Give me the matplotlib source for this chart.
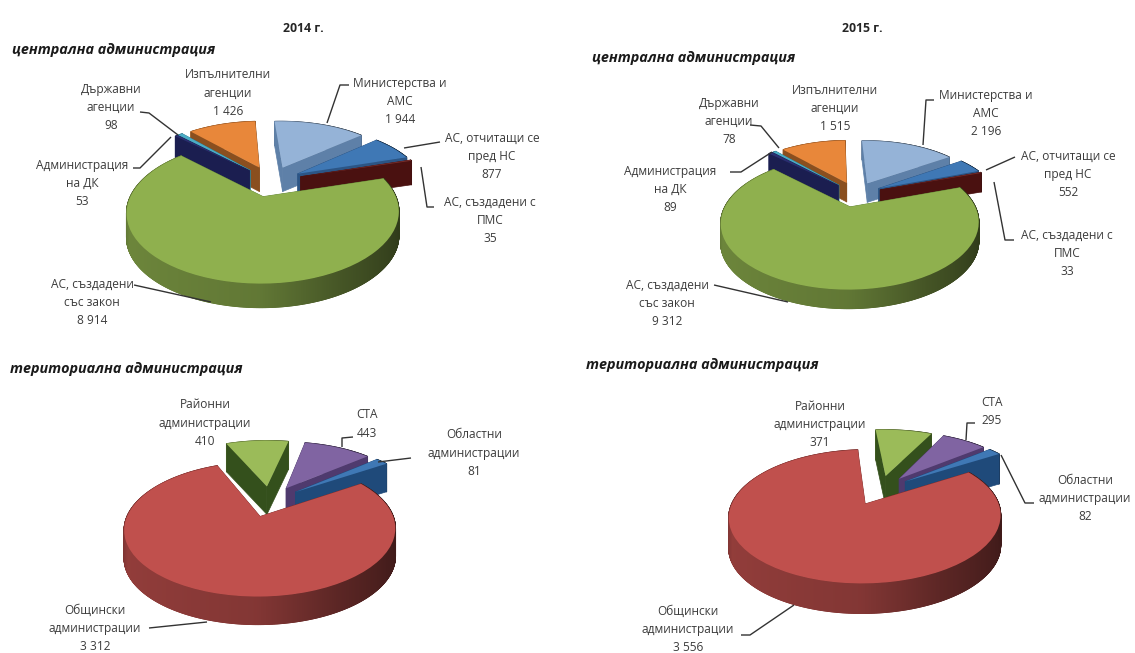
import numpy as np
import matplotlib
matplotlib.use("Agg")
import matplotlib.pyplot as plt
from matplotlib.collections import PolyCollection
from matplotlib.transforms import Transform
from matplotlib.colors import to_rgb

# ---------- data ----------
central_labels = ["Министерства и\nАМС", "АС, отчитащи се\nпред НС", "АС, създадени с\nПМС",
                  "АС, създадени\nсъс закон", "Администрация\nна ДК", "Държавни\nагенции",
                  "Изпълнителни\nагенции"]
central_2014 = [1944, 877, 35, 8914, 53, 98, 1426]
central_2015 = [2196, 552, 33, 9312, 89, 78, 1515]
terr_labels = ["Районни\nадминистрации", "СТА", "Областни\nадминистрации", "Общински\nадминистрации"]
terr_2014 = [410, 443, 81, 3312]
terr_2015 = [371, 295, 82, 3556]
central_2014_text = ["1 944", "877", "35", "8 914", "53", "98", "1 426"]
central_2015_text = ["2 196", "552", "33", "9 312", "89", "78", "1 515"]
terr_2014_text = ["410", "443", "81", "3 312"]
terr_2015_text = ["371", "295", "82", "3 556"]

# ---------- style ----------
central_top = ["#95B3D7", "#3F78B5", "#7A2E2C", "#8FB04E", "#2A2F72", "#4BACC6", "#E8873A"]
central_wall = ["#5E80A8", "#2C5585", "#4A1110", "#5F8336", "#1B1E50", "#2F7F93", "#8A4F1F"]
terr_top = ["#9BBB59", "#8064A2", "#3F78B5", "#C0504D"]
terr_wall = ["#34501C", "#4F3A6E", "#1F4A7A", "#7E2B28"]
TXT = "#3c3c3c"
W, H = 1135, 653
plt.rcParams["font.family"] = ["Open Sans", "DejaVu Sans"]

fig = plt.figure(figsize=(W / 100, H / 100), dpi=100, facecolor="white")
pix = fig.add_axes([0, 0, 1, 1], zorder=0)
pix.set_xlim(0, W); pix.set_ylim(H, 0); pix.axis("off")


class Persp(Transform):
    input_dims = output_dims = 2

    def __init__(self, a, k):
        super().__init__()
        self.a, self.k = a, k

    def transform_non_affine(self, xy):
        xy = np.asarray(xy, float)
        w = 1 + self.k * xy[:, 1]
        return np.column_stack([xy[:, 0] / w, self.a * xy[:, 1] / w])


def pie3d(values, tops, walls, cx, cy, R, a, k, h, start, explode, z):
    ax = fig.add_axes([0, 0, 1, 1], zorder=z)
    ax.patch.set_alpha(0)
    tr = Persp(a / R, k)
    wedges, _ = ax.pie(values, startangle=start, counterclock=False, explode=[explode] * len(values),
                       colors=tops, radius=1, center=(0, 0))
    ax.set_aspect("auto")
    ax.set_xlim(-cx / R, (W - cx) / R)
    ax.set_ylim((cy - H) / R, cy / R)
    ax.axis("off")

    def proj(X, Y):
        w = 1 + k * Y
        return cx + R * X / w, cy - a * Y / w

    mids = [np.radians((wd.theta1 + wd.theta2) / 2) for wd in wedges]
    order = np.argsort([-np.sin(m) for m in mids])
    for zi, i in enumerate(order):
        wd = wedges[i]
        c0 = np.array(wd.center)
        base = np.array(to_rgb(tops[i]))
        th = np.radians(np.linspace(wd.theta1, wd.theta2, max(4, int(wd.theta2 - wd.theta1) * 4)))
        X = c0[0] + np.cos(th); Y = c0[1] + np.sin(th)
        px, py = proj(X, Y)
        polys, cols = [], []
        for j in range(len(th) - 1):
            polys.append([(px[j], py[j]), (px[j + 1], py[j + 1]),
                          (px[j + 1], py[j + 1] + h), (px[j], py[j] + h)])
            nx = np.cos((th[j] + th[j + 1]) / 2)
            s = np.interp(nx, [-1, -0.9, 0, 0.5, 1], [0.62, 0.76, 0.68, 0.48, 0.33])
            cols.append(base * s)
        pc = PolyCollection(polys, facecolors=cols, edgecolors=cols, linewidths=0.8,
                            transform=pix.transData, zorder=10 + 3 * zi)
        ax.add_collection(pc, autolim=False)
        ax0, ay0 = proj(c0[0], c0[1])
        rad = []
        for e in (0, -1):
            rad.append([(ax0, ay0), (px[e], py[e]), (px[e], py[e] + h), (ax0, ay0 + h)])
        rc = PolyCollection(rad, facecolors=walls[i], edgecolors=walls[i], linewidths=0.5,
                            transform=pix.transData, zorder=11 + 3 * zi)
        ax.add_collection(rc, autolim=False)
        wd.set_transform(tr + ax.transData)
        wd.set_zorder(12 + 3 * zi)
    return ax


pie3d(central_2014, central_top, central_wall, 271, 181, 126, 61, 0.21, 24, 93.5, 0.25, 1)
pie3d(central_2015, central_top, central_wall, 856, 194, 119, 56.7, 0.23, 19, 92, 0.22, 2)
pie3d(terr_2014, terr_top, terr_wall, 270, 501, 127, 59, 0.183, 28, 113, 0.26, 3)
pie3d(terr_2015, terr_top, terr_wall, 880, 490, 128, 59.3, 0.182, 30, 95, 0.25, 4)

over = fig.add_axes([0, 0, 1, 1], zorder=10)
over.patch.set_alpha(0)
over.set_xlim(0, W); over.set_ylim(H, 0); over.axis("off")

LS = 18.2  # px between lines


def labels(names, texts, centers, leaders):
    for n, t, (x, y), l in zip(names, texts, centers, leaders):
        lines = n.split("\n") + [t]
        for i, s in enumerate(lines):
            over.text(x, y + i * LS, s, ha="center", va="center", fontsize=8.6, color=TXT, clip_on=True)
        arr = np.array(l)
        over.plot(arr[:, 0], arr[:, 1], color="#333333", lw=1.0, solid_capstyle="butt")


labels(central_labels, central_2014_text,
       [(400, 83), (492, 138), (490, 202), (92, 284), (82, 165), (111, 89), (228, 75)],
       [[(349, 85), (340, 85), (327, 123)], [(440, 142), (404, 148)],
        [(434, 207), (427, 207), (421, 167)], [(134, 285), (211, 302)],
        [(133, 168), (140, 168), (171, 137)], [(140, 112), (149, 113), (178, 135)], [(0, -9), (0, -9)]])
labels(central_labels, central_2015_text,
       [(986, 95), (1068, 156), (1067, 235), (667, 285), (670, 171), (729, 103), (835, 90)],
       [[(934, 100), (926, 100), (923, 145)], [(1015, 157), (986, 170)],
        [(1014, 240), (1005, 240), (994, 182)], [(714, 285), (788, 302)],
        [(730, 172), (741, 172), (772, 152)], [(750, 125), (761, 126), (779, 148)], [(0, -9), (0, -9)]])
labels(terr_labels, terr_2014_text,
       [(205, 405), (367, 415), (474, 435), (95, 610)],
       [[(0, -9), (0, -9)], [(353, 437), (342, 438), (342, 447)], [(411, 458), (378, 462)],
        [(149, 628), (207, 622)]])
labels(terr_labels, terr_2015_text,
       [(820, 406), (992, 402), (1085, 480), (688, 611)],
       [[(0, -9), (0, -9)], [(975, 423), (967, 423), (966, 440)], [(1034, 503), (1025, 503), (1001, 455)],
        [(741, 635), (750, 635), (794, 605)]])

for s, x in (("2014 г.", 303), ("2015 г.", 862)):
    over.text(x, 29, s, ha="center", va="center", fontsize=8.8, fontweight="bold", color="#262626")
for s, x, y in (("централна администрация", 12, 50), ("централна администрация", 592, 58),
                ("териториална администрация", 10, 369), ("териториална администрация", 586, 365)):
    over.text(x, y, s, ha="left", va="center", fontsize=10.4, fontweight="bold", fontstyle="italic",
              color="#1a1a1a")

fig.savefig("out.png", dpi=100, facecolor="white")
